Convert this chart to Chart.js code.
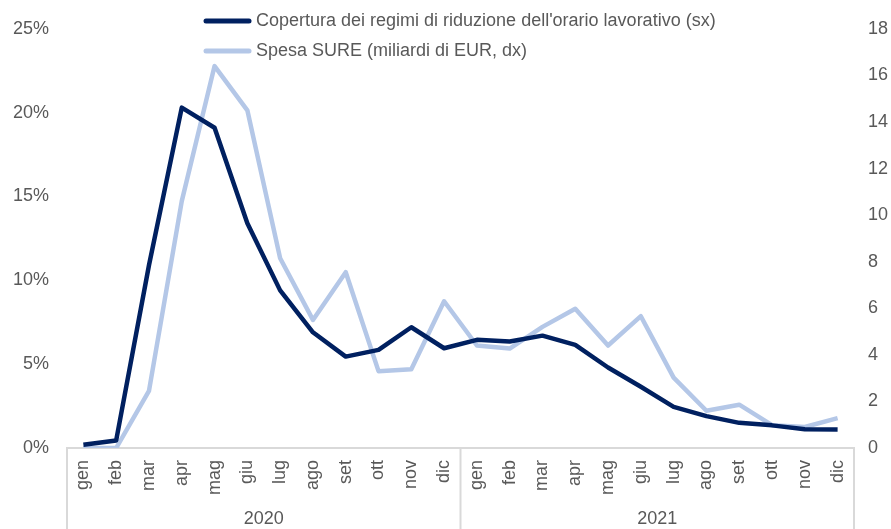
<!DOCTYPE html>
<html>
<head>
  <title>SURE</title>
  <script src="https://cdn.jsdelivr.net/npm/chart.js"></script>
  <style>
    body { margin: 0; background: #fff; }
  </style>
</head>
<body>
  <canvas id="chart" width="891" height="529"></canvas>

  <script>
    const months = ['gen', 'feb', 'mar', 'apr', 'mag', 'giu', 'lug', 'ago', 'set', 'ott', 'nov', 'dic',
                    'gen', 'feb', 'mar', 'apr', 'mag', 'giu', 'lug', 'ago', 'set', 'ott', 'nov', 'dic'];
    const years = ['2020', '2021'];

    // copertura dei regimi (% , asse sx)
    const copertura = [0.2, 0.45, 10.9, 20.3, 19.1, 13.4, 9.4, 6.9, 5.45, 5.85, 7.2, 5.95,
                       6.45, 6.35, 6.7, 6.15, 4.8, 3.65, 2.45, 1.9, 1.5, 1.35, 1.12, 1.1];
    // spesa SURE (miliardi di EUR, asse dx)
    const spesa = [0, 0, 2.45, 10.6, 16.4, 14.5, 8.15, 5.5, 7.55, 3.3, 3.38, 6.3,
                   4.4, 4.27, 5.2, 5.98, 4.4, 5.66, 3.02, 1.6, 1.86, 0.98, 0.9, 1.28];

    const FONT = "'Liberation Sans', Arial, sans-serif";
    const GREY = '#595959';
    const LINE = '#d9d9d9';

    // year groups under the month labels
    const yearAxis = {
      id: 'yearAxis',
      afterDraw(chart) {
        const ctx = chart.ctx;
        const x = chart.scales.x;
        const area = chart.chartArea;
        const per = months.length / years.length;
        ctx.save();
        ctx.strokeStyle = LINE;
        ctx.lineWidth = 2;
        ctx.fillStyle = GREY;
        ctx.font = '18px ' + FONT;
        ctx.textAlign = 'center';
        ctx.textBaseline = 'middle';
        for (let i = 0; i <= years.length; i++) {
          let px;
          if (i === 0) px = area.left;
          else if (i === years.length) px = area.right;
          else px = (x.getPixelForValue(i * per - 1) + x.getPixelForValue(i * per)) / 2;
          ctx.beginPath();
          ctx.moveTo(px, area.bottom);
          ctx.lineTo(px, chart.height);
          ctx.stroke();
        }
        years.forEach((y, i) => {
          const a = x.getPixelForValue(i * per);
          const b = x.getPixelForValue((i + 1) * per - 1);
          ctx.fillText(y, (a + b) / 2, 519);
        });
        ctx.restore();
      }
    };

    // legend drawn over the plot
    const legendBox = {
      id: 'legendBox',
      afterDraw(chart) {
        const ctx = chart.ctx;
        ctx.save();
        ctx.font = '18px ' + FONT;
        ctx.textBaseline = 'middle';
        ctx.textAlign = 'left';
        chart.data.datasets.forEach((ds, i) => {
          const y = 21 + i * 30;
          ctx.strokeStyle = ds.borderColor;
          ctx.lineWidth = 5;
          ctx.lineCap = 'round';
          ctx.beginPath();
          ctx.moveTo(206, y);
          ctx.lineTo(249, y);
          ctx.stroke();
          ctx.fillStyle = GREY;
          ctx.fillText(ds.label, 256, y);
        });
        ctx.restore();
      }
    };

    new Chart(document.getElementById('chart'), {
      type: 'line',
      data: {
        labels: months,
        datasets: [
          {
            label: "Copertura dei regimi di riduzione dell'orario lavorativo (sx)",
            data: copertura,
            yAxisID: 'y',
            borderColor: '#002060',
            borderWidth: 4.5,
            borderJoinStyle: 'round',
            pointRadius: 0,
            tension: 0
          },
          {
            label: 'Spesa SURE (miliardi di EUR, dx)',
            data: spesa,
            yAxisID: 'y2',
            borderColor: '#b4c7e7',
            borderWidth: 4.5,
            borderJoinStyle: 'round',
            pointRadius: 0,
            tension: 0
          }
        ]
      },
      options: {
        responsive: false,
        animation: false,
        layout: { padding: { top: 23, bottom: 0, left: 0, right: 0 } },
        plugins: {
          legend: { display: false },
          tooltip: { enabled: false }
        },
        scales: {
          x: {
            offset: true,
            grid: { display: false, drawTicks: false },
            border: { display: true, color: LINE, width: 2 },
            ticks: {
              autoSkip: false,
              minRotation: 90,
              maxRotation: 90,
              padding: 12,
              color: GREY,
              font: { family: FONT, size: 18 }
            },
            afterFit: s => { s.height = 81; }
          },
          y: {
            position: 'left',
            min: 0,
            max: 25,
            grid: { display: false, drawTicks: false },
            border: { display: false },
            ticks: {
              stepSize: 5,
              padding: 18,
              color: GREY,
              font: { family: FONT, size: 18 },
              callback: v => v + '%'
            },
            afterFit: s => { s.width = 67; }
          },
          y2: {
            position: 'right',
            min: 0,
            max: 18,
            grid: { display: false, drawTicks: false },
            border: { display: false },
            ticks: {
              stepSize: 2,
              padding: 14,
              color: GREY,
              font: { family: FONT, size: 18 }
            },
            afterFit: s => { s.width = 37; }
          }
        }
      },
      plugins: [yearAxis, legendBox]
    });
  </script>
</body>
</html>
